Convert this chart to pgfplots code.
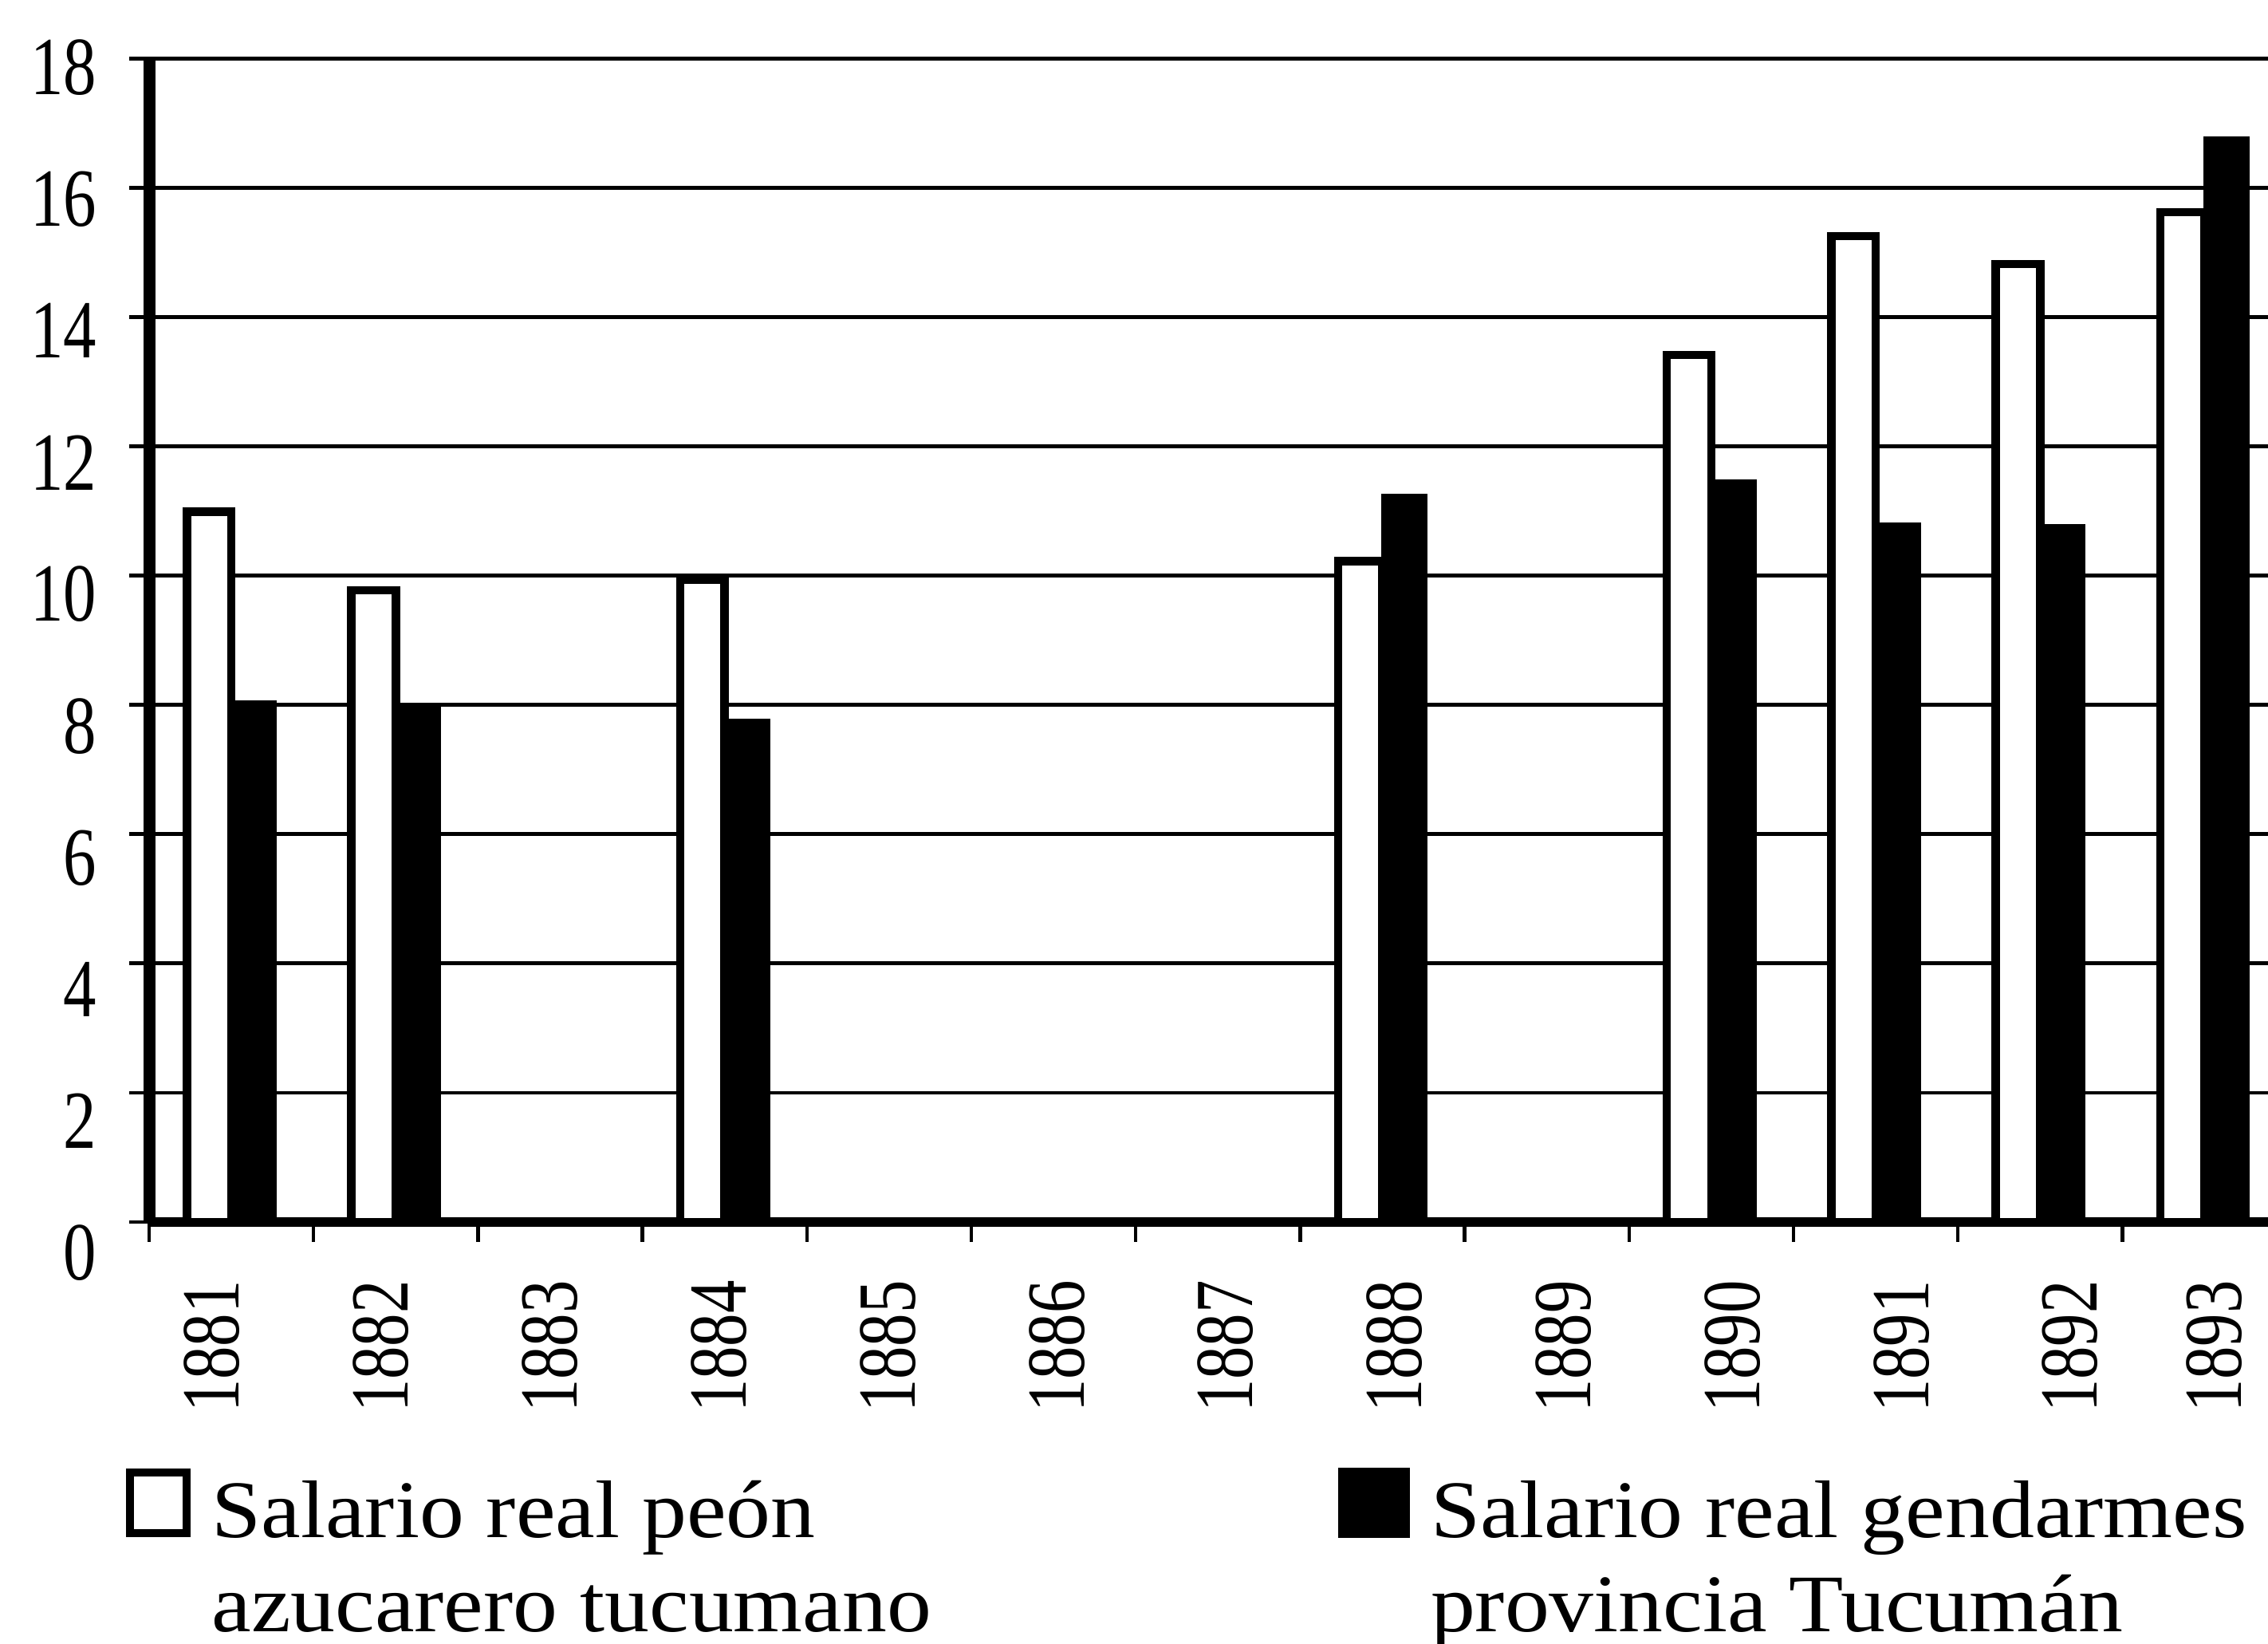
\documentclass[border=0pt]{standalone}
\usepackage{pgfplots}
\pgfplotsset{compat=1.18}
\usepackage{fontspec}
\setmainfont{Liberation Serif}
\usepackage{graphicx}
\newcommand\hs[1]{\scalebox{0.8}[1]{#1}}
\newcommand\lx[1]{\scalebox{1.09}[1]{#1}}
\begin{document}
\begin{tikzpicture}
\path[use as bounding box] (-37.4pt,-105.8pt) rectangle (531.4pt,306.36pt);
\begin{axis}[
  at={(0,0)}, anchor=south west,
  scale only axis, width=531.4pt, height=291.7pt,
  xmin=-0.5, xmax=12.386, ymin=0, ymax=18,
  ybar=0pt, bar width=0.27,
  axis x line*=bottom, axis y line*=left,
  x axis line style={-, line width=2.4pt},
  y axis line style={-, line width=3pt},
  ytick={0,2,...,18},
  yticklabels={\hs{0},\hs{2},\hs{4},\hs{6},\hs{8},\hs{10},\hs{12},\hs{14},\hs{16},\hs{18}},
  ymajorgrids, grid style={black, line width=0.9pt},
  xtick={-0.5,0.5,1.5,2.5,3.5,4.5,5.5,6.5,7.5,8.5,9.5,10.5,11.5},
  xticklabels={},
  extra x ticks={-0.117,0.910,1.938,2.965,3.992,5.020,6.047,7.074,8.101,9.129,10.156,11.183,12.06},
  extra x tick labels={\hs{1881},\hs{1882},\hs{1883},\hs{1884},\hs{1885},\hs{1886},\hs{1887},\hs{1888},\hs{1889},\hs{1890},\hs{1891},\hs{1892},\hs{1893}},
  extra x tick style={major tick length=0pt},
  major tick length=5pt,
  tick align=outside,
  tick style={black, line width=0.9pt},
  ticklabel style={font=\fontsize{20.7}{20.7}\selectfont, inner sep=0pt},
  yticklabel style={anchor=east, xshift=-8pt, yshift={-7.8pt+0.62pt*\ticknum}},
  xticklabel style={yshift=-14.5pt, rotate=90, anchor=east},
  legend columns=2,
  legend style={draw=none, fill=none, at={(0,0)}, anchor=north west,
    xshift=-5.8pt, yshift=-61.6pt, inner sep=0pt, outer sep=0pt,
    font=\fontsize{20.5}{23.6}\selectfont,
    cells={anchor=base west, inner sep=0pt},
    /tikz/every odd column/.style={column sep=3.3pt},
    /tikz/every even column/.style={column sep=0pt}},
]
\addplot[fill=white, draw=black, line width=2.1pt,
  legend image code/.code={\draw[black, line width=2pt, fill=white] (1pt,1pt) rectangle (15.2pt,16.2pt);}]
  coordinates {(0,10.99) (1,9.77) (3,9.93) (7,10.22) (9,13.41) (10,15.25) (11,14.82) (12,15.62)};
\addlegendentry{\parbox[t]{280.5pt}{\lx{Salario real peón}\\\lx{azucarero tucumano}}}
\addplot[fill=black, draw=black, line width=0.5pt,
  legend image code/.code={\fill[black] (0pt,0pt) rectangle (17.4pt,17.2pt);}]
  coordinates {(0,8.05) (1,7.99) (3,7.77) (7,11.25) (9,11.47) (10,10.81) (11,10.78) (12,16.78)};
\addlegendentry{\parbox[t]{205pt}{\lx{Salario real gendarmes}\\\lx{provincia Tucumán}}}
\end{axis}
\end{tikzpicture}
\end{document}
